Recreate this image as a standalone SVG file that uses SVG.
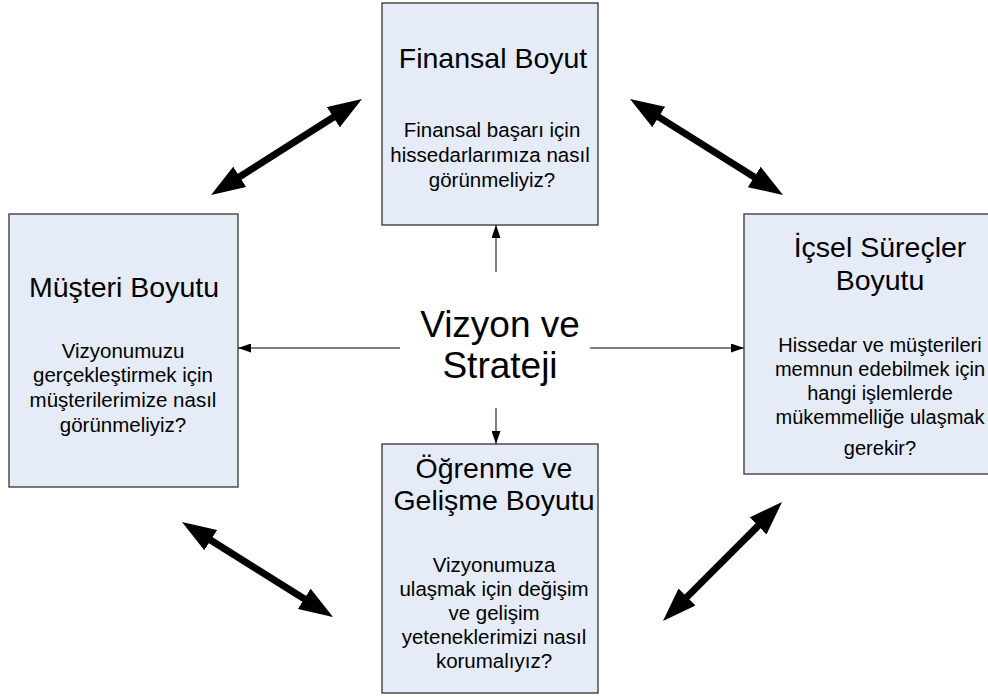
<svg xmlns="http://www.w3.org/2000/svg" width="988" height="697" viewBox="0 0 988 697">
<defs>
<style>
.box{fill:#e6ecf7;stroke:#333;stroke-width:1.3}
text{font-family:"Liberation Sans",Arial,sans-serif;fill:#000;text-anchor:middle}
.t{font-size:28.5px}
.b{font-size:20.5px}
.r{font-size:20px}
.c{font-size:37px}
.thick{stroke:#000;stroke-width:7;fill:none}
.thin{stroke:#000;stroke-width:1;fill:none}
</style>
<marker id="big" viewBox="0 0 34 24" markerUnits="userSpaceOnUse" markerWidth="34" markerHeight="24" refX="14" refY="12" orient="auto-start-reverse">
<path d="M0,0 L34,12 L0,24 z" fill="#000"/>
</marker>
<marker id="small" viewBox="0 0 13 9" markerUnits="userSpaceOnUse" markerWidth="13" markerHeight="9" refX="13" refY="4.5" orient="auto">
<path d="M0,0 L13,4.5 L0,9 z" fill="#000"/>
</marker>
</defs>
<g id="connectors">
<line class="thick" x1="227.9" y1="184.3" x2="345.1" y2="109.7" marker-start="url(#big)" marker-end="url(#big)"/>
<line class="thick" x1="646.9" y1="109.6" x2="766.1" y2="184.4" marker-start="url(#big)" marker-end="url(#big)"/>
<line class="thick" x1="198.9" y1="532.7" x2="316.1" y2="606.3" marker-start="url(#big)" marker-end="url(#big)"/>
<line class="thick" x1="677.1" y1="606.9" x2="767.9" y2="516.1" marker-start="url(#big)" marker-end="url(#big)"/>
<line class="thin" x1="496" y1="272" x2="496" y2="225" marker-end="url(#small)"/>
<line class="thin" x1="496" y1="408" x2="496" y2="444" marker-end="url(#small)"/>
<line class="thin" x1="400" y1="348" x2="238" y2="348" marker-end="url(#small)"/>
<line class="thin" x1="590" y1="348" x2="744" y2="348" marker-end="url(#small)"/>
</g>
<g id="finansal">
<rect class="box" x="382" y="3" width="216" height="222"/>
<text class="t" x="493" y="68">Finansal Boyut</text>
<text class="b" x="492" y="137">Finansal başarı için</text>
<text class="b" x="490" y="162">hissedarlarımıza nasıl</text>
<text class="b" x="492" y="187">görünmeliyiz?</text>
</g>
<g id="musteri">
<rect class="box" x="9" y="214" width="229" height="273"/>
<text class="t" x="124" y="297">Müşteri Boyutu</text>
<text class="b" x="123" y="358">Vizyonumuzu</text>
<text class="b" x="123" y="382">gerçekleştirmek için</text>
<text class="b" x="123" y="407">müşterilerimize nasıl</text>
<text class="b" x="123" y="432">görünmeliyiz?</text>
</g>
<g id="icsel">
<rect class="box" x="744" y="214" width="276" height="260"/>
<text class="t" x="880" y="257">İçsel Süreçler</text>
<text class="t" x="880" y="290">Boyutu</text>
<text class="r" x="880" y="352">Hissedar ve müşterileri</text>
<text class="r" x="880" y="376">memnun edebilmek için</text>
<text class="r" x="880" y="400">hangi işlemlerde</text>
<text class="r" x="880" y="424">mükemmelliğe ulaşmak</text>
<text class="r" x="880" y="455">gerekir?</text>
</g>
<g id="ogrenme">
<rect class="box" x="382" y="444" width="216" height="249"/>
<text class="t" x="494" y="478">Öğrenme ve</text>
<text class="t" x="494" y="510">Gelişme Boyutu</text>
<text class="b" x="494" y="572">Vizyonumuza</text>
<text class="b" x="494" y="596">ulaşmak için değişim</text>
<text class="b" x="494" y="620">ve gelişim</text>
<text class="b" x="494" y="644">yeteneklerimizi nasıl</text>
<text class="b" x="494" y="668">korumalıyız?</text>
</g>
<g id="vizyon">
<text class="c" x="500" y="337">Vizyon ve</text>
<text class="c" x="500" y="378">Strateji</text>
</g>
</svg>
